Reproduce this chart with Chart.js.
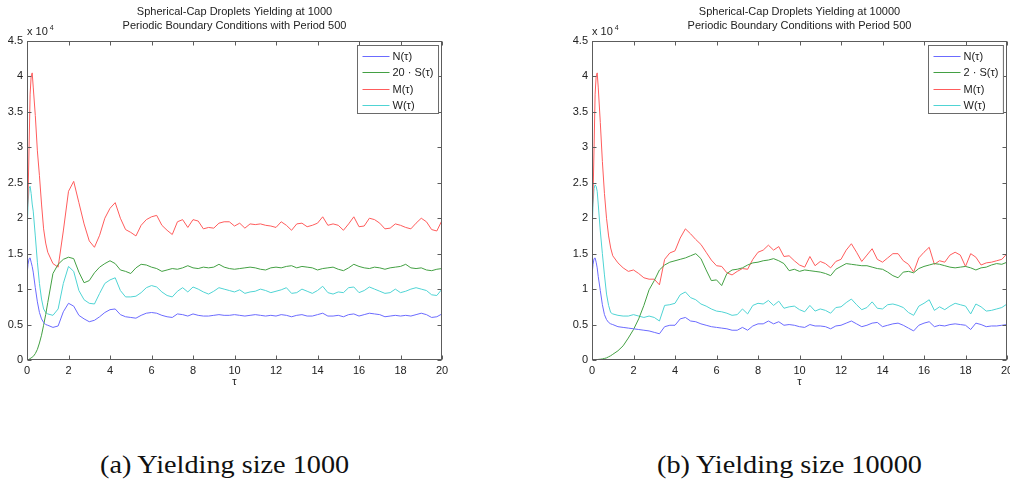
<!DOCTYPE html>
<html><head><meta charset="utf-8">
<script src="https://cdn.jsdelivr.net/npm/chart.js@4.4.1/dist/chart.umd.min.js"></script>
<style>
html,body{margin:0;padding:0;background:#fff;overflow:hidden;width:1010px;height:483px;}
#wrap{position:relative;width:1010px;height:483px;overflow:hidden;}
canvas{position:absolute;}
#c1{left:0;top:0;}
#c2{left:565px;top:0;}
.cap{position:absolute;font-family:'Liberation Serif','DejaVu Serif',serif;font-size:25px;color:#111;white-space:nowrap;top:450px;line-height:30px;transform:scaleX(1.13);transform-origin:left center;}
</style></head><body>
<div id="wrap">
<canvas id="c1" width="480" height="400"></canvas>
<canvas id="c2" width="470" height="400"></canvas>
<div class="cap" style="left:100px">(a) Yielding size 1000</div>
<div class="cap" style="left:657px">(b) Yielding size 10000</div>
</div>
<script>
// time axis (tau)
const tau = [0,0.05,0.1,0.15,0.2,0.25,0.3,0.4,0.5,0.6,0.7,0.8,0.9,1,
 1.25,1.5,1.75,2,2.25,2.5,2.75,3,3.25,3.5,3.75,4,4.25,4.5,4.75,5,
 5.25,5.5,5.75,6,6.25,6.5,6.75,7,7.25,7.5,7.75,8,8.25,8.5,8.75,9,9.25,9.5,9.75,10,
 10.25,10.5,10.75,11,11.25,11.5,11.75,12,12.25,12.5,12.75,13,13.25,13.5,13.75,14,14.25,14.5,14.75,15,
 15.25,15.5,15.75,16,16.25,16.5,16.75,17,17.25,17.5,17.75,18,18.25,18.5,18.75,19,19.25,19.5,19.75,20];

// values in units of 10^4
// (a) yielding size 1000
const N_a = [1.2,1.35,1.43,1.44,1.38,1.32,1.24,1.02,0.82,0.67,0.58,0.53,0.50,0.49,
 0.46,0.48,0.68,0.80,0.76,0.63,0.58,0.54,0.56,0.61,0.67,0.71,0.72,0.64,0.61,0.60,
 0.59,0.63,0.66,0.67,0.66,0.63,0.61,0.60,0.65,0.64,0.62,0.65,0.63,0.62,0.62,0.63,0.64,0.63,0.63,0.64,
 0.63,0.62,0.63,0.64,0.63,0.62,0.63,0.62,0.64,0.63,0.61,0.63,0.64,0.62,0.62,0.64,0.66,0.62,0.62,0.63,
 0.61,0.64,0.65,0.62,0.64,0.66,0.65,0.64,0.61,0.62,0.63,0.62,0.63,0.62,0.64,0.66,0.64,0.60,0.61,0.65];
const S20_a = [0,0.005,0.01,0.02,0.03,0.04,0.05,0.09,0.15,0.24,0.35,0.49,0.64,0.81,
 1.22,1.35,1.42,1.45,1.43,1.24,1.09,1.12,1.23,1.31,1.36,1.40,1.36,1.27,1.25,1.22,
 1.30,1.35,1.34,1.31,1.29,1.25,1.27,1.29,1.28,1.30,1.33,1.30,1.29,1.31,1.30,1.31,1.35,1.31,1.29,1.28,
 1.29,1.30,1.31,1.30,1.28,1.27,1.30,1.31,1.30,1.32,1.33,1.30,1.32,1.31,1.30,1.27,1.29,1.30,1.31,1.28,
 1.26,1.30,1.35,1.32,1.30,1.29,1.31,1.30,1.28,1.30,1.31,1.32,1.35,1.30,1.29,1.30,1.27,1.26,1.28,1.29];
const M_a = [2.0,2.3,3.0,3.75,4.0,4.05,3.85,3.45,2.95,2.6,2.2,1.85,1.65,1.52,
 1.36,1.31,1.82,2.38,2.52,2.22,1.92,1.68,1.59,1.76,2.0,2.14,2.22,2.0,1.84,1.80,
 1.75,1.90,1.98,2.02,2.04,1.90,1.83,1.77,1.95,1.98,1.87,1.98,1.96,1.85,1.87,1.86,1.93,1.95,1.95,1.89,
 1.93,1.86,1.92,1.91,1.92,1.90,1.89,1.87,1.95,1.90,1.83,1.92,1.93,1.88,1.90,1.93,2.02,1.90,1.92,1.90,
 1.83,1.92,2.02,1.88,1.89,2.00,1.98,1.93,1.85,1.86,1.92,1.90,1.87,1.85,1.93,2.00,1.95,1.84,1.82,1.97];
const W_a = [1.75,2.2,2.42,2.45,2.35,2.2,2.1,1.75,1.38,1.08,0.86,0.72,0.67,0.65,
 0.63,0.72,1.08,1.32,1.25,0.98,0.85,0.80,0.79,0.94,1.08,1.13,1.16,0.98,0.89,0.89,
 0.90,0.95,1.02,1.05,1.03,0.96,0.91,0.89,0.97,1.02,0.96,1.03,1.00,0.96,0.93,0.97,1.02,1.00,0.98,0.96,
 0.99,0.94,0.96,0.97,1.00,0.98,0.95,0.97,0.99,1.02,0.94,0.95,1.00,0.97,0.94,0.98,1.04,0.95,0.93,0.96,
 0.95,1.02,1.03,0.95,0.98,1.03,1.00,0.97,0.94,0.95,1.00,0.95,0.97,1.00,1.02,1.00,0.98,0.92,0.91,1.00];

// (b) yielding size 10000
const N_b = [1.2,1.35,1.43,1.44,1.38,1.30,1.18,0.98,0.78,0.64,0.57,0.53,0.51,0.50,
 0.47,0.46,0.45,0.44,0.43,0.42,0.41,0.39,0.37,0.47,0.49,0.49,0.58,0.60,0.55,0.54,
 0.51,0.49,0.47,0.46,0.45,0.44,0.42,0.42,0.46,0.42,0.48,0.51,0.51,0.55,0.51,0.54,0.49,0.50,0.49,0.47,
 0.46,0.50,0.48,0.48,0.47,0.44,0.48,0.49,0.52,0.55,0.51,0.47,0.49,0.52,0.53,0.47,0.49,0.51,0.52,0.49,
 0.45,0.41,0.49,0.52,0.54,0.47,0.49,0.48,0.50,0.51,0.50,0.49,0.43,0.52,0.50,0.47,0.48,0.48,0.49,0.50];
const S2_b = [0,0.002,0.003,0.004,0.005,0.006,0.008,0.011,0.015,0.022,0.03,0.045,0.06,0.08,
 0.13,0.20,0.31,0.43,0.58,0.77,0.99,1.12,1.27,1.34,1.38,1.40,1.42,1.44,1.47,1.50,
 1.43,1.27,1.12,1.13,1.05,1.22,1.27,1.28,1.30,1.34,1.37,1.38,1.40,1.41,1.43,1.40,1.36,1.26,1.28,1.25,
 1.27,1.26,1.25,1.24,1.22,1.19,1.28,1.32,1.36,1.35,1.34,1.33,1.33,1.31,1.29,1.28,1.24,1.19,1.16,1.24,
 1.25,1.23,1.29,1.32,1.34,1.36,1.35,1.33,1.31,1.30,1.31,1.32,1.30,1.27,1.30,1.31,1.34,1.36,1.35,1.38];
const M_b = [2.0,2.3,3.0,3.75,4.0,4.05,3.85,3.35,2.8,2.35,2.0,1.75,1.58,1.47,
 1.37,1.30,1.25,1.27,1.22,1.16,1.14,1.14,1.06,1.42,1.51,1.54,1.72,1.85,1.78,1.70,
 1.63,1.52,1.41,1.33,1.32,1.23,1.20,1.25,1.29,1.28,1.42,1.52,1.55,1.62,1.55,1.60,1.46,1.47,1.40,1.34,
 1.31,1.46,1.33,1.39,1.36,1.30,1.39,1.42,1.55,1.64,1.52,1.39,1.48,1.57,1.42,1.38,1.44,1.50,1.50,1.40,
 1.35,1.24,1.44,1.52,1.59,1.35,1.40,1.38,1.48,1.52,1.48,1.32,1.50,1.45,1.34,1.37,1.38,1.40,1.42,1.50];
const W_b = [1.75,2.2,2.42,2.47,2.45,2.38,2.2,1.82,1.50,1.20,0.93,0.77,0.67,0.65,
 0.63,0.62,0.62,0.64,0.62,0.60,0.62,0.60,0.55,0.77,0.78,0.80,0.92,0.96,0.88,0.85,
 0.79,0.76,0.72,0.69,0.68,0.66,0.63,0.64,0.72,0.65,0.77,0.80,0.79,0.84,0.77,0.83,0.73,0.75,0.76,0.71,
 0.68,0.77,0.69,0.72,0.70,0.66,0.74,0.75,0.81,0.86,0.78,0.71,0.74,0.82,0.73,0.72,0.78,0.79,0.77,0.74,
 0.67,0.63,0.76,0.80,0.85,0.70,0.75,0.71,0.76,0.80,0.78,0.76,0.65,0.79,0.75,0.69,0.70,0.72,0.74,0.79];

const labels_a = ['N(τ)','20 · S(τ)','M(τ)','W(τ)'];
const labels_b = ['N(τ)','2 · S(τ)','M(τ)','W(τ)'];
const colors = ['#6b6bff','#43a043','#ff5c5c','#4fd4d4'];
const titles_a = ['Spherical-Cap Droplets Yielding at 1000','Periodic Boundary Conditions with Period 500'];
const titles_b = ['Spherical-Cap Droplets Yielding at 10000','Periodic Boundary Conditions with Period 500'];

const FONT = "'Liberation Sans', Arial, Helvetica, sans-serif";
const AXIS = '#5c5c5c';
const TXT = '#222';

const deco = {
  id: 'deco',
  afterDraw(chart, args, opts) {
    const {ctx, chartArea: a, scales: {x, y}} = chart;
    ctx.save();
    const L = Math.round(a.left) + 0.5, R = Math.round(a.right) - 0.5;
    const T = Math.round(a.top) + 0.5, B = Math.round(a.bottom) - 0.5;
    ctx.strokeStyle = AXIS; ctx.lineWidth = 1;
    ctx.strokeRect(L, T, R - L, B - T);
    ctx.beginPath();
    x.ticks.forEach(t => {
      const px = Math.round(x.getPixelForValue(t.value)) + 0.5;
      ctx.moveTo(px, B); ctx.lineTo(px, B - 4);
      ctx.moveTo(px, T); ctx.lineTo(px, T + 4);
    });
    y.ticks.forEach(t => {
      const py = Math.round(y.getPixelForValue(t.value)) + 0.5;
      ctx.moveTo(L, py); ctx.lineTo(L + 4, py);
      ctx.moveTo(R, py); ctx.lineTo(R - 4, py);
    });
    ctx.stroke();
    // titles
    ctx.fillStyle = TXT;
    ctx.font = '11px ' + FONT;
    ctx.textAlign = 'center'; ctx.textBaseline = 'middle';
    const cx = (a.left + a.right) / 2;
    ctx.fillText(opts.titles[0], cx, 12);
    ctx.fillText(opts.titles[1], cx, 26);
    // exponent label
    ctx.textAlign = 'left';
    ctx.fillText('x 10', a.left, 32);
    const w = ctx.measureText('x 10').width;
    ctx.font = '7px ' + FONT;
    ctx.fillText('4', a.left + w + 2, 28);
    // legend
    ctx.font = '11px ' + FONT;
    const ds = chart.data.datasets;
    let maxW = 0;
    ds.forEach(d => { maxW = Math.max(maxW, ctx.measureText(d.label).width); });
    const bw = 5 + 27 + 3 + maxW + 5;
    const bx = Math.round(a.right - 4 - bw) + 0.5;
    const by = Math.round(a.top + 4) + 0.5;
    const bh = 68;
    ctx.fillStyle = '#fff';
    ctx.fillRect(bx, by, bw, bh);
    ctx.strokeStyle = '#6a6a6a';
    ctx.strokeRect(bx, by, bw, bh);
    ds.forEach((d, i) => {
      const ry = Math.round(by + 10 + i * 16.5) + 0.5;
      ctx.strokeStyle = d.borderColor; ctx.lineWidth = 1;
      ctx.beginPath(); ctx.moveTo(bx + 5, ry); ctx.lineTo(bx + 32, ry); ctx.stroke();
      ctx.fillStyle = TXT;
      ctx.fillText(d.label, bx + 35, ry);
    });
    ctx.restore();
  }
};

function makeChart(id, series, labels, titles, padRight) {
  return new Chart(document.getElementById(id), {
    type: 'line',
    data: {
      datasets: series.map((s, i) => ({
        label: labels[i],
        data: tau.map((t, k) => ({x: t, y: s[k]})),
        borderColor: colors[i],
        backgroundColor: colors[i],
        borderWidth: 1,
        pointRadius: 0,
        tension: 0,
        fill: false
      }))
    },
    options: {
      responsive: false,
      animation: false,
      events: [],
      layout: {padding: {left: 0, right: padRight, top: 41, bottom: 10}},
      plugins: {legend: {display: false}, tooltip: {enabled: false}, title: {display: false},
        deco: {titles: titles}},
      scales: {
        x: {
          type: 'linear', min: 0, max: 20,
          ticks: {stepSize: 2, padding: 4, color: TXT, font: {family: FONT, size: 11}, maxRotation: 0},
          grid: {display: false, drawTicks: false},
          border: {display: false},
          title: {display: true, text: 'τ', color: TXT, font: {family: FONT, size: 11}, padding: {top: 0, bottom: 1}},
          afterFit: s => { s.height = 30; }
        },
        y: {
          min: 0, max: 4.5,
          ticks: {stepSize: 0.5, padding: 4, color: TXT, font: {family: FONT, size: 11},
            callback: v => String(Math.round(v * 10) / 10)},
          grid: {display: false, drawTicks: false},
          border: {display: false},
          afterFit: s => { s.width = 27; }
        }
      }
    },
    plugins: [deco]
  });
}

makeChart('c1', [N_a, S20_a, M_a, W_a], labels_a, titles_a, 38);
makeChart('c2', [N_b, S2_b, M_b, W_b], labels_b, titles_b, 28);
</script>
</body></html>
